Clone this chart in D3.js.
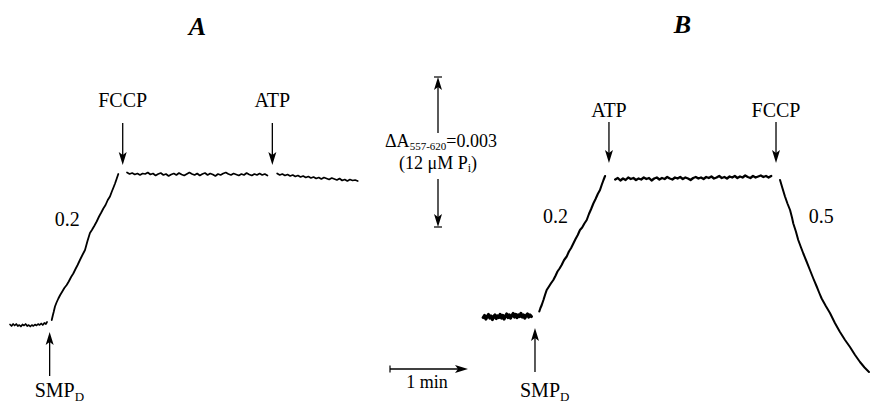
<!DOCTYPE html>
<html>
<head>
<meta charset="utf-8">
<script src="https://cdn.jsdelivr.net/npm/d3@7"></script>
<style>
  body { margin: 0; background: #fff; }
  .trace { fill: none; stroke: #000; stroke-linejoin: round; stroke-linecap: round; }
</style>
</head>
<body>
<div id="container"></div>
<script>
// recorder traces, pairs of [time (s), deltaA x 1000]
var aBase = [[0,0.11],[1.2,0.08],[2.4,0.12],[3.6,0.09],[4.8,0.12],[6,0.08],[7.2,0.1],[8.4,0.07],[9.6,0.11],[10.8,0.09],
  [12,0.12],[13.2,0.08],[14.4,0.1],[15.6,0.07],[16.8,0.1],[18,0.08],[19.2,0.11],[20.4,0.09],[21.6,0.12],[22.8,0.1],
  [24,0.13],[25.2,0.1],[26.4,0.14],[27.6,0.12],[28.5,0.16]];
var aRise = [[32.1,0.2],[33,0.3],[33.6,0.36],[34.6,0.47],[35.8,0.55],[37.2,0.63],[38.6,0.7],[40,0.76],[41.8,0.84],[43.6,0.9],
  [45.2,0.97],[47,1.06],[48.7,1.13],[50.4,1.22],[52,1.3],[53.8,1.4],[55.7,1.5],[57.7,1.6],[59.6,1.78],[61.5,1.94],
  [63,2.0],[64.8,2.08],[66.7,2.17],[68.5,2.27],[70.2,2.35],[71.8,2.43],[73.5,2.5],[75.2,2.6],[76.9,2.67],[78.2,2.76],
  [79.6,2.85],[80.8,2.93],[82,3.02],[83.3,3.12]];
var aPlat1 = [[90,3.15],[92,3.12],[94,3.14],[96,3.11],[98,3.13],[100,3.1],[102,3.13],[104,3.12],[106,3.15],[108,3.11],
  [110,3.13],[112,3.09],[114,3.12],[116,3.14],[118,3.1],[120,3.12],[122,3.08],[124,3.11],[126,3.13],[128,3.1],
  [130,3.14],[132,3.11],[134,3.09],[136,3.12],[138,3.15],[140,3.12],[142,3.1],[144,3.13],[146,3.09],[148,3.12],
  [150,3.14],[152,3.1],[154,3.13],[156,3.11],[158,3.08],[160,3.12],[162,3.1],[164,3.13],[166,3.15],[168,3.12],
  [170,3.1],[172,3.13],[174,3.11],[176,3.09],[178,3.12],[180,3.1],[182,3.14],[184,3.11],[186,3.09],[188,3.12],
  [190,3.1],[192,3.13],[194,3.1],[196,3.12],[198,3.09]];
var aPlat2 = [[205.5,3.13],[207.5,3.1],[209.5,3.12],[211.5,3.09],[213.5,3.11],[215.5,3.08],[217.5,3.1],[219.5,3.07],
  [221.5,3.09],[223.5,3.06],[225.5,3.08],[227.5,3.05],[229.5,3.07],[231.5,3.04],[233.5,3.06],[235.5,3.03],[237.5,3.05],
  [239.5,3.02],[241.5,3.05],[243.5,3.03],[245.5,3.01],[247.5,3.04],[249.5,3.02],[251.5,3.0],[253.5,3.03],[255.5,2.99],
  [257.5,3.01],[259.5,2.98],[261.5,3.01],[263.5,2.99],[265.5,3.0],[267.5,2.98]];

var bBase = [[2.5,0.25],[3.5,0.29],[4.5,0.22],[5.5,0.27],[6.5,0.31],[7.5,0.24],[8.5,0.28],[9.5,0.21],[10.5,0.27],[11.5,0.3],
  [12.5,0.23],[13.5,0.28],[14.5,0.25],[15.5,0.31],[16.5,0.24],[17.5,0.29],[18.5,0.22],[19.5,0.28],[20.5,0.32],[21.5,0.25],
  [22.5,0.3],[23.5,0.24],[24.5,0.29],[25.5,0.33],[26.5,0.26],[27.5,0.31],[28.5,0.25],[29.5,0.3],[30.5,0.27],[31.5,0.33],
  [32.5,0.26],[33.5,0.3],[34.5,0.24],[35.5,0.29],[36.5,0.32],[37.5,0.26],[38.5,0.3],[39.5,0.27]];
var bRise = [[45.6,0.37],[46.5,0.44],[47.5,0.5],[48.8,0.6],[50,0.7],[51.3,0.8],[52.8,0.86],[54.5,0.93],[56.4,1.0],[58,1.08],
  [59.6,1.17],[61.2,1.23],[62.8,1.3],[64.7,1.4],[66.7,1.47],[68.4,1.57],[70.1,1.64],[71.8,1.73],[73.5,1.82],[75.2,1.9],
  [76.9,2.0],[78.6,2.05],[80.3,2.13],[82.1,2.2],[83.8,2.32],[85.5,2.42],[87.2,2.53],[88.9,2.62],[90.6,2.72],[92.3,2.8],
  [93.6,2.9],[95,3.0],[96.2,3.08]];
var bPlat = [[104,3.01],[106,3.04],[108,2.99],[110,3.03],[112,3.0],[114,3.05],[116,3.02],[118,3.04],[120,3.0],[122,3.03],
  [124,3.01],[126,3.05],[128,3.02],[130,3.04],[132,2.99],[134,3.03],[136,3.05],[138,3.01],[140,3.04],[142,3.02],
  [144,3.06],[146,3.03],[148,3.01],[150,3.05],[152,3.03],[154,3.06],[156,3.02],[158,3.05],[160,3.03],[162,3.0],
  [164,3.04],[166,3.06],[168,3.03],[170,3.05],[172,3.02],[174,3.06],[176,3.04],[178,3.07],[180,3.03],[182,3.05],
  [184,3.08],[186,3.04],[188,3.06],[190,3.03],[192,3.07],[194,3.05],[196,3.08],[198,3.04],[200,3.07],[202,3.05],
  [204,3.09],[206,3.06],[208,3.04],[210,3.08],[212,3.05],[214,3.07],[216,3.09],[218,3.06],[220,3.08],[222,3.05],[224,3.08]];
var bDecay = [[230.8,3.0],[232.5,2.85],[234.6,2.67],[236.5,2.53],[238.5,2.4],[240,2.25],[241,2.13],[243,1.97],[244.8,1.8],
  [246.8,1.66],[248.7,1.53],[251.2,1.37],[253.8,1.2],[256.4,1.03],[259,0.87],[261,0.74],[262.8,0.63],[266,0.48],
  [269.2,0.34],[273,0.14],[276.9,-0.04],[280.8,-0.2],[284.6,-0.34],[288.5,-0.5],[292.3,-0.64],[295.8,-0.75],[299.2,-0.84]];

// additions (time in s)
var aEvents = [{ label: "FCCP", t: 86.7 }, { label: "ATP", t: 201.8 }];
var bEvents = [{ label: "ATP", t: 99.2 }, { label: "FCCP", t: 227.7 }];
var aSmp = { label: "SMP", sub: "D", t: 30.5 };
var bSmp = { label: "SMP", sub: "D", t: 42.3 };
var rateLabels = ["0.2", "0.2", "0.5"];

// scale bars
var barMinutes = 1;
var barDeltaA = 0.003;

var serif = '"Liberation Serif", "Times New Roman", "DejaVu Serif", serif';

function load() {
	var width = 870, height = 405;

	var svg = d3.select("#container").append("svg")
		.attr("width", width)
		.attr("height", height)
		.attr("font-family", serif);

	// both panels share the same time base (s) and absorbance scale (x 1000)
	var xA = d3.scaleLinear().domain([0, 300]).range([10, 400]);
	var xB = d3.scaleLinear().domain([0, 300]).range([480, 870]);
	var y = d3.scaleLinear().domain([0, 6]).range([330, 30]);

	function trace(x, data, w) {
		var line = d3.line()
			.x(function(d) { return x(d[0]); })
			.y(function(d) { return y(d[1]); });
		svg.append("path")
			.datum(data)
			.attr("class", "trace")
			.attr("stroke-width", w)
			.attr("d", line);
	}

	trace(xA, aBase, 1.7);
	trace(xA, aRise, 1.8);
	trace(xA, aPlat1, 1.7);
	trace(xA, aPlat2, 1.7);
	trace(xB, bBase, 3.2);
	trace(xB, bRise, 2.1);
	trace(xB, bPlat, 2.4);
	trace(xB, bDecay, 2.0);

	// arrow with a notched head, tip at (x, tipY)
	function arrow(x, fromY, tipY) {
		var dir = tipY > fromY ? 1 : -1;
		svg.append("line")
			.attr("x1", x).attr("x2", x)
			.attr("y1", fromY).attr("y2", tipY - dir * 9)
			.attr("stroke", "#000").attr("stroke-width", 1.3);
		svg.append("path")
			.attr("d", "M" + x + "," + tipY +
				"L" + (x - 4) + "," + (tipY - dir * 13) +
				"L" + x + "," + (tipY - dir * 10) +
				"L" + (x + 4) + "," + (tipY - dir * 13) + "Z")
			.attr("fill", "#000");
	}

	function label(x, yy, txt, size, anchor) {
		return svg.append("text")
			.attr("x", x).attr("y", yy)
			.attr("text-anchor", anchor || "middle")
			.attr("font-family", serif)
			.attr("font-size", size)
			.attr("fill", "#000")
			.text(txt);
	}

	// panel titles
	label((xA(aEvents[0].t) + xA(aEvents[1].t)) / 2, 35, "A", 26)
		.attr("font-weight", "bold").attr("font-style", "italic");
	label((xB(bEvents[0].t) + xB(bEvents[1].t)) / 2 - 10, 33, "B", 26)
		.attr("font-weight", "bold").attr("font-style", "italic");

	// addition arrows
	aEvents.forEach(function(e) {
		arrow(xA(e.t), 123, 165);
		label(xA(e.t), 107, e.label, 20);
	});
	bEvents.forEach(function(e) {
		arrow(xB(e.t), 122, 163);
		label(xB(e.t), 117, e.label, 20);
	});

	[[xA, aSmp, 376, 332], [xB, bSmp, 372, 328]].forEach(function(s) {
		var px = s[0](s[1].t);
		arrow(px, s[2], s[3]);
		var t = label(px - 15, 397, s[1].label, 20, "start");
		t.append("tspan").attr("dy", 4).attr("font-size", 13).text(s[1].sub);
	});

	// rate labels
	label(xA(44), y(2.08), rateLabels[0], 20);
	label(xB(58), y(2.14), rateLabels[1], 20);
	label(xB(262.5), y(2.14), rateLabels[2], 20);

	// vertical scale bar (deltaA)
	var bx = 438, bBottom = y(2.06), bTop = y(2.06 + barDeltaA * 1000);
	arrow(bx, 133, bTop);
	arrow(bx, 179, bBottom);
	[bTop, bBottom].forEach(function(v) {
		svg.append("line")
			.attr("x1", bx - 4).attr("x2", bx + 4)
			.attr("y1", v).attr("y2", v)
			.attr("stroke", "#000").attr("stroke-width", 1.2);
	});
	var da = label(441, 147, "\u0394A", 18);
	da.append("tspan").attr("dy", 3).attr("font-size", 11).text("557-620");
	da.append("tspan").attr("dy", -3).text("=0.003");
	var pi = label(438, 169, "(12 \u03bcM P", 18);
	pi.append("tspan").attr("dy", 3).attr("font-size", 12).text("i");
	pi.append("tspan").attr("dy", -3).text(")");

	// horizontal time bar (1 min)
	var tx0 = 390, tx1 = tx0 + (xA(barMinutes * 60) - xA(0)), ty = 369;
	svg.append("line")
		.attr("x1", tx0).attr("x2", tx1 - 9)
		.attr("y1", ty).attr("y2", ty)
		.attr("stroke", "#000").attr("stroke-width", 1.3);
	svg.append("line")
		.attr("x1", tx0).attr("x2", tx0)
		.attr("y1", ty - 3.5).attr("y2", ty + 3.5)
		.attr("stroke", "#000").attr("stroke-width", 1.2);
	svg.append("path")
		.attr("d", "M" + tx1 + "," + ty + "L" + (tx1 - 13) + "," + (ty - 4) +
			"L" + (tx1 - 10) + "," + ty + "L" + (tx1 - 13) + "," + (ty + 4) + "Z")
		.attr("fill", "#000");
	label((tx0 + tx1) / 2 - 2, 388, barMinutes + " min", 18);
}
load();
</script>
</body>
</html>
